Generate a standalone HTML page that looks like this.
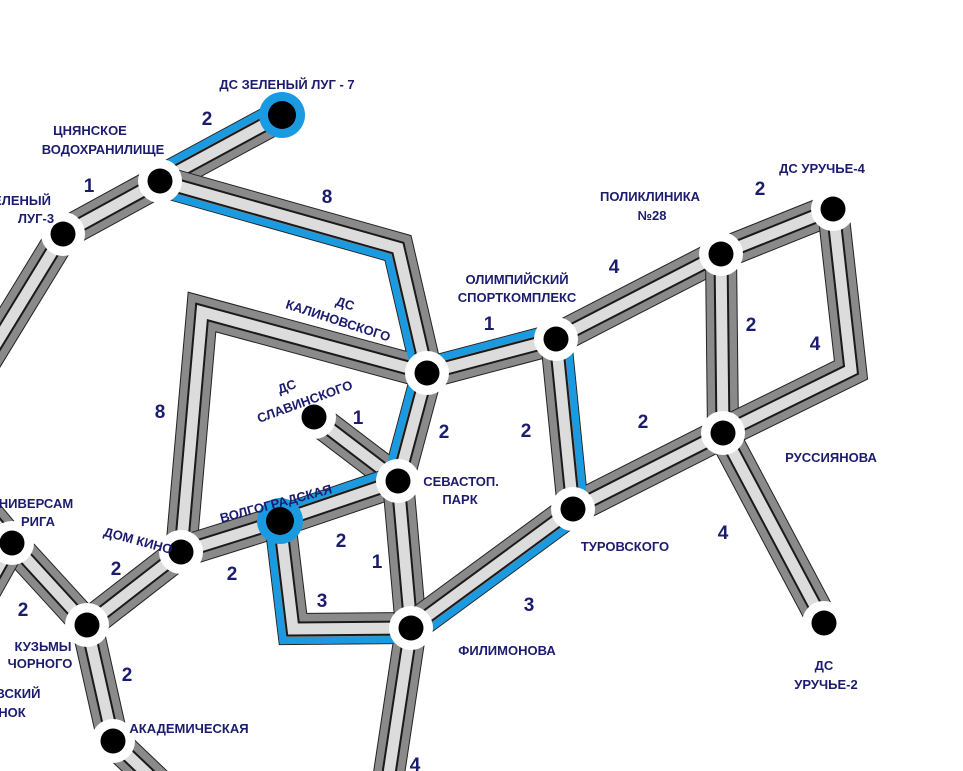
<!DOCTYPE html>
<html><head><meta charset="utf-8"><style>
html,body{margin:0;padding:0;background:#fff;}
svg{display:block;}
text{font-family:"Liberation Sans",sans-serif;fill:#1c1c6e;}
.l{font-size:13px;font-weight:bold;text-anchor:middle;}
.n{font-size:19px;font-weight:bold;text-anchor:middle;}
</style></head><body>
<svg id="s" width="963" height="771" viewBox="0 0 963 771" xmlns="http://www.w3.org/2000/svg">
<g id="bands"></g><g id="blue"></g><g id="nodes"></g>
<g>
<text class="l" x="287" y="89">ДС ЗЕЛЕНЫЙ ЛУГ - 7</text>
<text class="l" x="90" y="135">ЦНЯНСКОЕ</text>
<text class="l" x="103" y="154">ВОДОХРАНИЛИЩЕ</text>
<text class="l" x="22" y="205">ЕЛЕНЫЙ</text>
<text class="l" x="36" y="223">ЛУГ-3</text>
<text class="l" x="345" y="308" transform="rotate(18 345 304)">ДС</text>
<text class="l" x="338" y="325" transform="rotate(18 338 321)">КАЛИНОВСКОГО</text>
<text class="l" x="287" y="391" transform="rotate(-20 287 387)">ДС</text>
<text class="l" x="305" y="406" transform="rotate(-20 305 402)">СЛАВИНСКОГО</text>
<text class="l" x="517" y="284">ОЛИМПИЙСКИЙ</text>
<text class="l" x="517" y="302">СПОРТКОМПЛЕКС</text>
<text class="l" x="650" y="201">ПОЛИКЛИНИКА</text>
<text class="l" x="652" y="220">№28</text>
<text class="l" x="822" y="173">ДС УРУЧЬЕ-4</text>
<text class="l" x="831" y="462">РУССИЯНОВА</text>
<text class="l" x="461" y="486">СЕВАСТОП.</text>
<text class="l" x="460" y="504">ПАРК</text>
<text class="l" x="276" y="508" transform="rotate(-15 276 504)">ВОЛГОГРАДСКАЯ</text>
<text class="l" x="625" y="551">ТУРОВСКОГО</text>
<text class="l" x="507" y="655">ФИЛИМОНОВА</text>
<text class="l" x="824" y="670">ДС</text>
<text class="l" x="826" y="689">УРУЧЬЕ-2</text>
<text class="l" x="138" y="545" transform="rotate(15 138 541)">ДОМ КИНО</text>
<text class="l" x="36" y="508">НИВЕРСАМ</text>
<text class="l" x="38" y="526">РИГА</text>
<text class="l" x="43" y="651">КУЗЬМЫ</text>
<text class="l" x="40" y="668">ЧОРНОГО</text>
<text class="l" x="18" y="698">ВСКИЙ</text>
<text class="l" x="12" y="717">НОК</text>
<text class="l" x="189" y="733">АКАДЕМИЧЕСКАЯ</text>
<text class="n" x="207" y="125">2</text>
<text class="n" x="89" y="192">1</text>
<text class="n" x="327" y="203">8</text>
<text class="n" x="489" y="330">1</text>
<text class="n" x="614" y="273">4</text>
<text class="n" x="760" y="195">2</text>
<text class="n" x="751" y="331">2</text>
<text class="n" x="815" y="350">4</text>
<text class="n" x="526" y="437">2</text>
<text class="n" x="643" y="428">2</text>
<text class="n" x="160" y="418">8</text>
<text class="n" x="358" y="424">1</text>
<text class="n" x="444" y="438">2</text>
<text class="n" x="341" y="547">2</text>
<text class="n" x="232" y="580">2</text>
<text class="n" x="377" y="568">1</text>
<text class="n" x="322" y="607">3</text>
<text class="n" x="529" y="611">3</text>
<text class="n" x="723" y="539">4</text>
<text class="n" x="116" y="575">2</text>
<text class="n" x="23" y="616">2</text>
<text class="n" x="127" y="681">2</text>
<text class="n" x="415" y="771">4</text>
</g>
</svg>
<script>
var NS="http://www.w3.org/2000/svg";
function el(p,t,a){var e=document.createElementNS(NS,t);for(var k in a)e.setAttribute(k,a[k]);document.getElementById(p).appendChild(e);return e;}
function pts(p){return p.map(function(q){return q[0]+","+q[1];}).join(" ");}
function band(p){
 [["#222",32],["#8a8a8a",30],["#1a1a1a",15],["#dcdcdc",11]].forEach(function(s){
  el("bands","polyline",{points:pts(p),fill:"none",stroke:s[0],"stroke-width":s[1],"stroke-linejoin":"miter","stroke-miterlimit":10});
 });
}
function off(p,d){
 var n=p.length,r=[];
 var norms=[];
 for(var i=0;i<n-1;i++){var dx=p[i+1][0]-p[i][0],dy=p[i+1][1]-p[i][1],l=Math.hypot(dx,dy);norms.push([-dy/l,dx/l]);}
 for(var i=0;i<n;i++){
  var a=norms[Math.max(0,i-1)],b=norms[Math.min(n-2,i)];
  var mx=a[0]+b[0],my=a[1]+b[1],ml=Math.hypot(mx,my);mx/=ml;my/=ml;
  var k=d/(mx*a[0]+my*a[1]);
  r.push([p[i][0]+mx*k,p[i][1]+my*k]);
 }
 return r;
}
var segs=[
 [[[63,234],[-20,370]]],
 [[[63,234],[160,181]]],
 [[[160,181],[282,115]],-1],
 [[[160,181],[398,248],[427,373]],1],
 [[[427,373],[202,312],[181,552]]],
 [[[427,373],[556,339]],-1],
 [[[427,373],[398,481]],1],
 [[[314,417],[398,481]]],
 [[[398,481],[280,521]],1],
 [[[280,521],[181,552]]],
 [[[280,521],[293,629],[411,628]],1],
 [[[398,481],[411,628]]],
 [[[411,628],[573,509]],1],
 [[[556,339],[573,509]],-1],
 [[[556,339],[721,254]]],
 [[[721,254],[833,209]]],
 [[[721,254],[723,433]]],
 [[[833,209],[851,370],[723,433]]],
 [[[573,509],[723,433]]],
 [[[723,433],[824,623]]],
 [[[411,628],[385,800]]],
 [[[181,552],[87,625]]],
 [[[12,543],[87,625]]],
 [[[12,543],[-20,505]]],
 [[[87,625],[113,741]]],
 [[[113,741],[175,800]]],
 [[[12,543],[-20,600]]]
];
segs.forEach(function(s){band(s[0]);});
segs.forEach(function(s){if(s[1]){el("blue","polyline",{points:pts(off(s[0],s[1]*11.5)),fill:"none",stroke:"#1a9ae0","stroke-width":7,"stroke-linejoin":"miter"});}});
var nodes=[[63,234],[160,181],[427,373],[556,339],[721,254],[833,209],[723,433],[314,417],[398,481],[573,509],[181,552],[411,628],[824,623],[12,543],[87,625],[113,741]];
nodes.forEach(function(n){el("nodes","circle",{cx:n[0],cy:n[1],r:22,fill:"#fff"});el("nodes","circle",{cx:n[0],cy:n[1],r:12.5,fill:"#000"});});
[[282,115],[280,521]].forEach(function(n){el("nodes","circle",{cx:n[0],cy:n[1],r:23,fill:"#1a9ae0"});el("nodes","circle",{cx:n[0],cy:n[1],r:14,fill:"#000"});});
</script>
</body></html>
